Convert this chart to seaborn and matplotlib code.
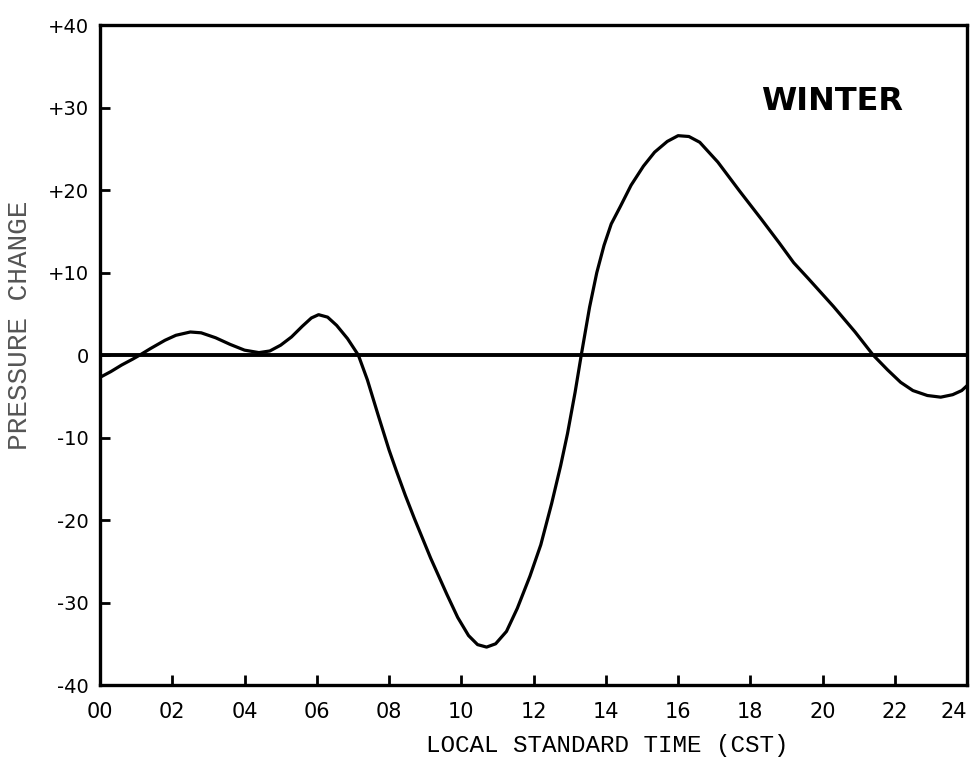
import numpy as np
import pandas as pd
import matplotlib
matplotlib.use("Agg")
import matplotlib.pyplot as plt
import seaborn as sns

# values (hour of day, pressure change)
hours = [0.0, 0.3, 0.6, 0.9, 1.1, 1.4, 1.8, 2.1, 2.5, 2.8, 3.2, 3.6, 4.0, 4.4,
         4.7, 5.0, 5.3, 5.6, 5.85, 6.05, 6.3, 6.55, 6.85, 7.15, 7.4, 7.7, 8.0,
         8.2, 8.45, 8.7, 9.15, 9.6, 9.9, 10.2, 10.45, 10.7, 10.95, 11.25, 11.55, 11.9,
         12.2, 12.5, 12.75, 12.94, 13.15, 13.32, 13.55, 13.75, 13.95, 14.15, 14.4, 14.7,
         15.04, 15.35, 15.7, 16.0, 16.3, 16.6, 17.1, 17.7, 18.3, 18.8, 19.2,
         19.6, 19.95, 20.3, 20.9, 21.4, 21.8, 22.16, 22.5, 22.9, 23.27, 23.6,
         23.85, 24.0]
pressure = [-2.7, -2.0, -1.2, -0.5, 0.0, 0.8, 1.8, 2.4, 2.8, 2.7, 2.1, 1.3, 0.6, 0.3,
            0.5, 1.2, 2.2, 3.5, 4.5, 4.9, 4.6, 3.6, 2.0, 0.0, -3.0, -7.3, -11.5,
            -14.0, -17.0, -19.8, -24.6, -29.0, -31.8, -34.0, -35.1, -35.4, -35.0, -33.5, -30.7, -26.8,
            -23.0, -18.0, -13.4, -9.5, -4.5, 0.0, 5.8, 10.0, 13.3, 15.9, 18.0, 20.6,
            22.9, 24.6, 25.9, 26.6, 26.5, 25.8, 23.4, 19.9, 16.5, 13.6, 11.2,
            9.3, 7.6, 5.9, 2.8, 0.0, -1.8, -3.3, -4.3, -4.9, -5.1, -4.8,
            -4.3, -3.7]

x_ticks = list(range(0, 25, 2))
x_labels = ["00", "02", "04", "06", "08", "10", "12", "14", "16", "18", "20", "22", "24"]
y_ticks = [40, 30, 20, 10, 0, -10, -20, -30, -40]
y_labels = ["+40", "+30", "+20", "+10", "0", "-10", "-20", "-30", "-40"]

df = pd.DataFrame({"hour": hours, "pressure": pressure})

sns.set_theme(style="white")
plt.rcParams["font.family"] = ["DejaVu Sans"]

fig = plt.figure(figsize=(9.71, 7.62), dpi=100)
ax = fig.add_axes([0.103, 0.101, 0.893, 0.866])

ax.axhline(0, color="black", lw=2.8, zorder=1)
sns.lineplot(data=df, x="hour", y="pressure", color="black", lw=2.3, ax=ax, zorder=2)

ax.set_xlim(0, 24)
ax.set_ylim(-40, 40)
ax.set_xticks(x_ticks)
ax.set_xticklabels(x_labels, fontsize=15, color="black")
ax.set_yticks(y_ticks)
ax.set_yticklabels(y_labels, fontsize=14, color="black")
ax.tick_params(axis="both", direction="in", length=7, width=2, color="black",
               bottom=True, left=True, top=False, right=False)
ax.tick_params(axis="x", pad=12)
ax.tick_params(axis="y", pad=8)
# last hour label sits against the right edge, as in the scan
ax.get_xticklabels()[-1].set_horizontalalignment("right")

for s in ax.spines.values():
    s.set_visible(True)
    s.set_color("black")
    s.set_linewidth(2.4)

ax.set_xlabel("")
ax.set_ylabel("")
fig.text(0.625, 0.021, "LOCAL STANDARD TIME (CST)", family="Liberation Mono",
         fontsize=17.5, ha="center", va="center", color="black")
fig.text(0.021, 0.573, "PRESSURE CHANGE", family="Liberation Mono", fontsize=20,
         rotation=90, ha="center", va="center", color="#555555")

ax.text(20.25, 30.8, "WINTER", fontsize=23, fontweight="bold", ha="center",
        va="center", color="black")

fig.savefig("out.png", dpi=100)
